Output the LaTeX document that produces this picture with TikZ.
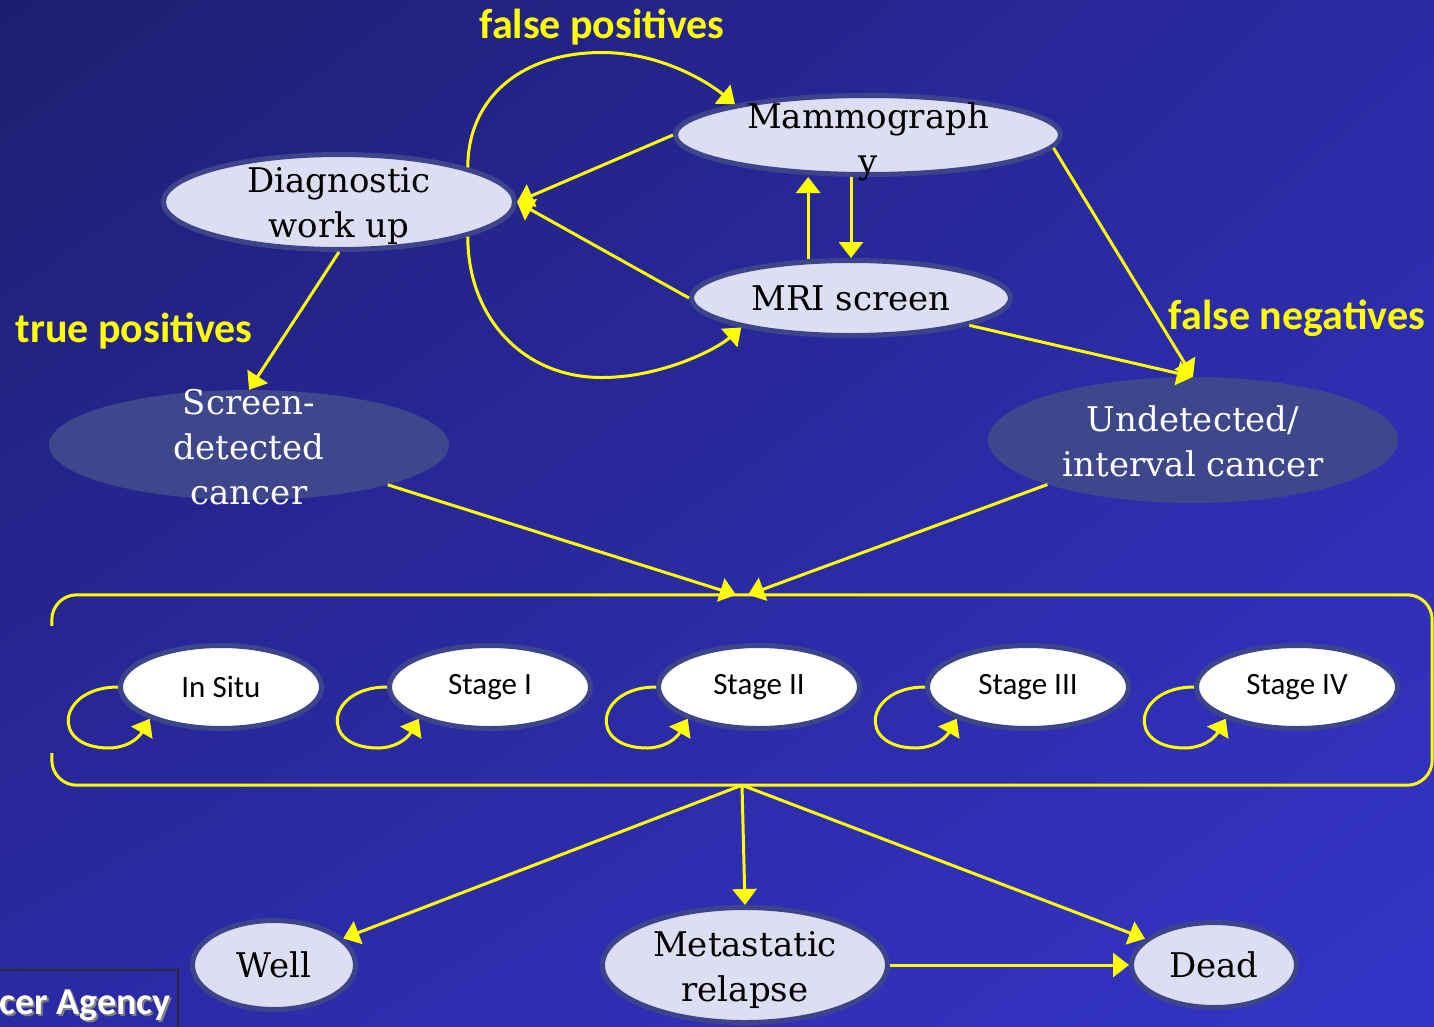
\documentclass[tikz,border=0pt]{standalone}
\usepackage{fontspec}
\setmainfont{DejaVu Serif}
\newfontfamily\calfont{Carlito}
\usetikzlibrary{arrows.meta,shapes.geometric,calc,shadings}
\definecolor{bgUL}{RGB}{30,30,112}
\definecolor{bgUR}{RGB}{42,42,165}
\definecolor{bgLL}{RGB}{42,42,165}
\definecolor{bgLR}{RGB}{52,52,200}
\definecolor{nodeborder}{RGB}{60,68,140}
\definecolor{lav}{RGB}{222,222,242}
\definecolor{cancerfill}{RGB}{62,70,140}
\definecolor{arrowyellow}{RGB}{255,255,0}
\definecolor{agencyborder}{RGB}{45,45,45}
\begin{document}
\begin{tikzpicture}[x=1pt,y=-1pt,
  state/.style={ellipse, draw=nodeborder, line width=5pt, fill=lav, inner sep=0pt,
    font=\fontsize{34}{45}\selectfont},
  stxt/.style={align=center, inner sep=0pt, font=\fontsize{34}{45}\selectfont},
  ctxt/.style={align=center, inner sep=0pt, text=white, font=\fontsize{34}{45}\selectfont},
  cancer/.style={ellipse, fill=cancerfill, draw=none, inner sep=0pt},
  stagebox/.style={ellipse, draw=nodeborder, line width=5pt, fill=white, inner sep=0pt,
    minimum width=201pt, minimum height=83pt, font=\calfont\fontsize{31}{36}\selectfont},
  arr/.style={draw=arrowyellow, line width=3pt, -{Triangle[length=16pt,width=24pt]}},
  boxline/.style={draw=arrowyellow, line width=3pt},
  lbl/.style={text=arrowyellow, inner sep=0pt, font=\calfont\bfseries\fontsize{42}{50}\selectfont},
  agencytxt/.style={inner sep=0pt, font=\calfont\bfseries\fontsize{38}{44}\selectfont}
]
\useasboundingbox (0,0) rectangle (1434,1026);
\shade[upper left=bgUL, upper right=bgUR, lower left=bgLL, lower right=bgLR] (0,0) rectangle (1434,1026);

% upper nodes
\node[state, minimum width=351pt, minimum height=95pt,
  label={[stxt, yshift=-4pt]center:{Diagnostic\\work up}}] (diag) at (339,202) {};
\node[state, minimum width=385pt, minimum height=79pt,
  label={[stxt, yshift=-7pt]center:{Mammograph\\y}}] (mammo) at (868,135) {};
\node[state, minimum width=319pt, minimum height=75pt] (mri) at (851,298) {MRI screen};

\node[cancer, minimum width=400pt, minimum height=110pt,
  label={[ctxt, yshift=-2pt]center:{Screen-\\detected\\cancer}}] (scr) at (249,445) {};
\node[cancer, minimum width=410pt, minimum height=126pt,
  label={[ctxt, yshift=-1pt]center:{Undetected/\\interval cancer}}] (und) at (1193,440) {};

% yellow labels
\node[lbl] (fp) at (602,27) {false positives};
\node[lbl] (tp) at (134,331) {true positives};
\node[lbl] (fn) at (1297,318) {false negatives};

% stage box
\node[minimum width=1380pt, minimum height=190pt, inner sep=0pt, draw=none] (box) at (742,690) {};
\draw[boxline, rounded corners=25pt] ($(box.north west)+(0,31)$) -- (box.north west) -- (box.north east)
  -- (box.south east) -- (box.south west) -- ($(box.south west)+(0,-32)$);

\node[stagebox] (s1) at (221,687) {In Situ};
\node[stagebox] (s2) at (490,687) {Stage I};
\node[stagebox] (s3) at (759,687) {Stage II};
\node[stagebox] (s4) at (1028,687) {Stage III};
\node[stagebox] (s5) at (1297,687) {Stage IV};

\foreach \s in {s1,s2,s3,s4,s5}{
  \draw[arr] (\s.west) .. controls +(-60,0) and +(-60,0) .. ++(-9,61)
     .. controls +(16,0) and +(-12,21) .. (\s.204);
}

% bottom nodes
\node[state, minimum width=163pt, minimum height=89pt] (well) at (274,965) {Well};
\node[state, minimum width=285pt, minimum height=115pt,
  label={[stxt, yshift=-5pt]center:{Metastatic\\relapse}}] (meta) at (745,965) {};
\node[state, minimum width=165pt, minimum height=85pt] (dead) at (1214,965) {Dead};

% agency box
\draw[agencyborder, line width=1.5pt] (-5,970) -- (178,970) -- (178,1030);
\node[agencytxt, text=gray, anchor=base east] (agencyshadow) at (173,1016) {cer Agency};
\node[agencytxt, text=white, anchor=base east] (agency) at (171,1014) {cer Agency};

% connectors
\draw[arr] (mammo.west) -- (diag.east);
\draw[arr] (mri.west) -- (diag.east);
\draw[arr] (diag.15) .. controls +(0,-70) and +(-80,0) .. ++(134,-115)
   .. controls +(58,0) and +(-28,-23) .. (mammo.167);
\draw[arr] (diag.-15) .. controls +(0,80) and +(-80,0) .. ++(134,141)
   .. controls +(58,0) and +(-26,23) .. (mri.195);
\draw[arr] (mri.138) -- (mri.138 |- mammo.south);
\draw[arr] (mammo.south -| mri.north) -- (mri.north);
\draw[arr] (diag.south) -- (scr.north);
\draw[arr] (mammo.-4.5) -- (und.north);
\draw[arr] (mri.-13.5) -- (und.north);
\draw[arr] (scr.-16) -- ([xshift=-6pt]box.north);
\draw[arr] (und.197) -- ([xshift=6pt]box.north);
\draw[arr] (box.south) -- (well);
\draw[arr] (box.south) -- (meta.north);
\draw[arr] (box.south) -- (dead);
\draw[arr] (meta.east) -- (dead.west);
\end{tikzpicture}
\end{document}
